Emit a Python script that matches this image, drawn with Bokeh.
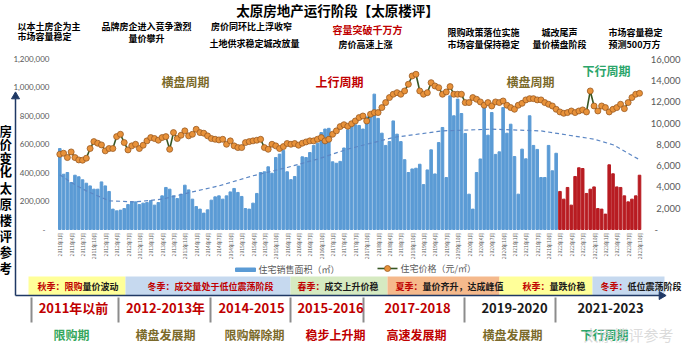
import math
from bokeh.plotting import figure
from bokeh.models import Range1d, ColumnDataSource
from bokeh.embed import file_html
from bokeh.resources import INLINE
from bokeh.core.properties import value

# ---------------- data ----------------
months = []
for yy in range(2011, 2024):
    for mm in range(1, 13):
        months.append(f"{yy}年{mm}月")
months = months[:154]

# 住宅销售面积 (㎡), monthly
sales = [
    568000, 388000, 400000, 330000, 381000, 370000, 349000, 325000, 306000, 283000, 283000, 334000, 306000, 267000,
    143000, 131000, 136000, 147000, 175000, 194000, 194000, 175000, 185000, 189000, 203000, 171000, 189000, 236000,
    295000, 283000, 236000, 217000, 248000, 311000, 278000, 213000, 161000, 143000, 115000, 138000, 206000, 229000,
    236000, 213000, 236000, 264000, 288000, 260000, 232000, 147000, 143000, 185000, 253000, 400000, 405000, 440000,
    395000, 505000, 529000, 555000, 405000, 350000, 372000, 445000, 510000, 505000, 540000, 590000, 605000, 680000,
    705000, 710000, 475000, 465000, 478000, 572000, 700000, 740000, 735000, 730000, 705000, 790000, 800000, 950000,
    780000, 676000, 590000, 617000, 762000, 669000, 617000, 490000, 400000, 425000, 430000, 458000, 315000, 418000,
    559000, 390000, 610000, 716000, 365000, 938000, 798000, 915000, 814000, 674000, 248000, 143000, 400000, 495000,
    856000, 662000, 821000, 527000, 545000, 856000, 676000, 739000, 512000, 248000, 564000, 496000, 798000, 590000,
    562000, 365000, 365000, 590000, 412000, 535000,
    267000, 213000, 295000, 171000, 372000, 433000, 428000, 253000, 283000, 299000, 147000, 143000, 108000, 454000,
    391000, 299000, 295000, 236000, 194000, 213000, 236000, 381000,
]

# 住宅价格 (元/㎡), monthly
price = [
    7070, 7170, 6760, 7290, 6760, 6540, 6510, 6700, 7610, 8260, 8110, 7950, 7390, 7610,
    7610, 8730, 8950, 8170, 7480, 7860, 8010, 7610, 7920, 8330, 8640, 8550, 8390, 8640,
    8730, 7540, 9110, 8550, 8860, 9270, 8800, 8950, 9420, 9110, 9050, 8800, 8550, 8480,
    8420, 8480, 8010, 8330, 7860, 7700, 7700, 8170, 8260, 8330, 8390, 8480, 7700, 7540,
    8010, 7860, 7610, 7790, 8080, 8010, 8080, 7920, 8110, 8230, 8330, 8330, 8480, 8640,
    8330, 8480, 8950, 9270, 9670, 9850, 9700, 9940, 10200, 10520, 10670, 10200, 10830, 10990,
    10990, 11460, 11930, 12400, 12710, 12860, 12710, 13020, 13650, 14430, 14590, 13020, 12710, 12860,
    13800, 13490, 13330, 12710, 12930, 13430, 12710, 12710, 12710, 11930, 11930, 12400, 12240, 11990,
    11680, 11930, 11610, 11990, 11930, 12080, 11680, 11460, 11300, 11680, 11860, 12180, 12300, 12300,
    12180, 12180, 11930, 11770, 11610, 11300,
    11050, 10920, 10990, 11140, 10990, 11140, 11240, 11050, 13020, 11610, 11140, 11610, 11460, 11050,
    11300, 11460, 11770, 11360, 11930, 12400, 12710, 12800,
]

# 多项式趋势线
trend_month = [0, 3, 7, 13, 20, 27, 35, 42, 51, 60, 68, 76, 88, 101, 114, 127, 141, 146, 153]
trend_sales = [385000, 330000, 271000, 201000, 194000, 213000, 264000, 306000, 377000, 435000,
               494000, 564000, 646000, 692000, 704000, 692000, 634000, 595000, 490000]

left_ticks = [0, 200000, 400000, 600000, 800000, 1000000, 1200000]
left_labels = ["-", "200,000", "400,000", "600,000", "800,000", "1,000,000", "1,200,000"]
right_ticks = [0, 2000, 4000, 6000, 8000, 10000, 12000, 14000, 16000]
right_labels = ["-", "2,000", "4,000", "6,000", "8,000", "10,000", "12,000", "14,000", "16,000"]

highlight_from = "2022年1月"

# ---------------- figure ----------------
W, H = 684, 343
X0, DX = 67.3, 3.789          # page px of first month, px per month
ZERO, PY_L, PY_R = 237.0, 28.5 / 200000, 10.64 / 1000


def X(px):
    return (px - X0) / DX


def Y(py):
    return (ZERO - py) / PY_L


def YR(py):
    return (ZERO - py) / PY_R


p = figure(width=W, height=H, output_backend="svg", toolbar_location=None,
           x_range=Range1d(X(8), X(8 + W)), y_range=Range1d(Y(8 + H), Y(8)),
           x_axis_location=None, y_axis_location=None, min_border=0)
p.extra_y_ranges = {"price": Range1d(YR(8 + H), YR(8))}
p.grid.visible = False
p.outline_line_color = None
p.background_fill_color = "white"
p.border_fill_color = "white"

CJK = value("Noto Sans CJK SC")
NUM = value("Lato")


def txt(px, py, s, size, color="#000000", bold=True, align="center", font=CJK, alpha=1.0):
    p.text(x=[X(px)], y=[Y(py)], text=[s], text_font=font, text_font_size=f"{size}px",
           text_color=color, text_font_style="bold" if bold else "normal",
           text_align=align, text_baseline="middle", text_alpha=alpha)


idx = list(range(len(months)))
hi = months.index(highlight_from)
bar_colors = ["#5b9bd5" if i < hi else "#b81c22" for i in idx]
src = ColumnDataSource(dict(x=idx, sales=sales, price=price, color=bar_colors, month=months))

# bars
p.vbar(x="x", top="sales", width=0.68, color="color", source=src)
# trend line
p.line(trend_month, trend_sales, line_color="#5b86c4", line_width=1.2, line_dash="4 3")
# price line
p.line(x="x", y="price", source=src, y_range_name="price", line_color="#375623", line_width=1.6)
p.scatter(x="x", y="price", source=src, y_range_name="price", size=6,
          fill_color="#e8923a", line_color="#9a5a22", line_width=0.8)

# left axis labels
lx = [X(53) if t == 0 else X(57) for t in left_ticks]
p.text(x=lx, y=left_ticks, text=left_labels, text_font=NUM, text_font_size="8px",
       text_color="#595959", text_align="right", text_baseline="middle")
# right axis labels (right-aligned so they stay inside the page)
rx = [X(662) if t == 0 else X(688) for t in right_ticks]
p.text(x=rx, y=right_ticks, text=right_labels, y_range_name="price",
       text_font=NUM, text_font_size="9.5px", text_color="#595959",
       text_align=["left"] + ["right"] * (len(right_ticks) - 1), text_baseline="middle")
# month labels (every quarter)
qi = idx[::3]
p.text(x=qi, y=[Y(240)] * len(qi), text=[months[i] for i in qi], text_font=CJK,
       text_font_size="5px", text_color="#595959", text_align="right",
       text_baseline="middle", angle=math.pi / 2)

# title
txt(345, 17, "太原房地产运行阶段【太原楼评】", 13.5)

# top annotations
txt(25, 34, "以本土房企为主", 9, align="left")
txt(25, 44, "市场容量稳定", 9, align="left")
txt(154, 34, "品牌房企进入竞争激烈", 9)
txt(154, 46, "量价攀升", 9)
txt(259, 34, "房价同环比上浮收窄", 9)
txt(262, 51, "土地供求稳定城改放量", 9)
txt(375, 37, "容量突破千万方", 10, color="#c00000")
txt(373, 52, "房价高速上涨", 9)
txt(491, 40, "限购政策落位实施", 9)
txt(491, 52, "市场容量保持稳定", 9)
txt(567, 40, "城改尾声", 9)
txt(567, 52, "量价横盘阶段", 9)
txt(643, 40, "市场容量稳定", 9)
txt(642, 52, "预测500万方", 9)

# cycle labels in plot
txt(193, 89, "横盘周期", 12, color="#7b6a2a")
txt(347, 89, "上行周期", 12, color="#c00000")
txt(538, 89, "横盘周期", 12, color="#7b6a2a")
txt(614, 78, "下行周期", 12, color="#2aa56a")

# left vertical titles
for ch, py in zip("房价变化", [138, 151, 165, 178]):
    txt(13, py, ch, 13)
for ch, py in zip("太原楼评参考", [195, 211, 227, 243, 259, 275]):
    txt(13, py, ch, 13)

# legend
p.quad(left=[X(243)], right=[X(263)], bottom=[Y(279)], top=[Y(275.5)], color="#5b9bd5")
txt(266, 277, "住宅销售面积（㎡）", 9, color="#595959", bold=False, align="left")
p.line([X(385), X(405)], [YR(276), YR(276)], y_range_name="price", line_color="#375623", line_width=1.6)
p.scatter([X(395)], [YR(276)], y_range_name="price", size=6, fill_color="#e8923a",
          line_color="#9a5a22", line_width=0.8)
txt(408, 276, "住宅价格（元/㎡）", 9, color="#595959", bold=False, align="left")

# season bands
bands = [(36, 133, "#ffff99"), (133, 298, "#c6d9ef"), (298, 395, "#d6eac1"),
         (395, 507, "#f5b98c"), (507, 600, "#ffff99"), (600, 672, "#c6d9ef")]
p.quad(left=[X(b[0]) for b in bands], right=[X(b[1]) for b in bands],
       bottom=[Y(303)] * len(bands), top=[Y(284)] * len(bands),
       fill_color=[b[2] for b in bands], line_color=None)
season = [(45, "秋季：限购", "量价波动"), (155, "冬季：成交量处于低位震荡阶段", ""),
          (305, "春季：", "成交上升价稳"), (403, "夏季：", "量价齐升，达成峰值"),
          (530, "秋季：", "量跌价稳"), (608, "冬季：", "低位震荡阶段")]
for sx, red, blk in season:
    txt(sx, 294, red, 9, color="#c00000", align="left")
    if blk:
        txt(sx + 9 * len(red), 294, blk, 9, color="#1a1a1a", align="left")

# arrows (axis frame)
p.segment(x0=[X(23), X(23)], y0=[Y(303), Y(303)], x1=[X(23), X(667)], y1=[Y(106), Y(303)],
          line_color="#1f3864", line_width=1.5)
p.scatter([X(23)], [Y(104)], marker="triangle", size=8, color="#1f3864")
p.scatter([X(669)], [Y(303)], marker="triangle", size=8, angle=-math.pi / 2, color="#1f3864")

# separators
seps = [39, 126, 218, 298, 371, 472, 563]
p.segment(x0=[X(s) for s in seps], y0=[Y(305)] * len(seps), x1=[X(s) for s in seps],
          y1=[Y(330)] * len(seps), line_color="#8c8c8c", line_width=2)

# period row
periods = [(81, "2011年以前", "#c00000"), (173, "2012-2013年", "#c00000"), (259, "2014-2015", "#c00000"),
           (338, "2015-2016", "#c00000"), (425, "2017-2018", "#c00000"), (522, "2019-2020", "#1a1a1a"),
           (618, "2021-2023", "#1a1a1a")]
for cx, s, c in periods:
    txt(cx, 315, s, 13, color=c)

phases = [(79, "限购期", "#35a75c"), (173, "横盘发展期", "#7b6a2a"), (262, "限购解除期", "#7b6a2a"),
          (343, "稳步上升期", "#c00000"), (424, "高速发展期", "#c00000"), (520, "横盘发展期", "#7b6a2a"),
          (612, "下行周期", "#2aa56a")]
for cx, s, c in phases:
    txt(cx, 341.5, s, 12, color=c)

# watermark
txt(636, 341.5, "太原楼评参考", 15, color="#cfcfcf", bold=False, alpha=0.75)

open("out.html", "w").write(file_html(p, INLINE))
